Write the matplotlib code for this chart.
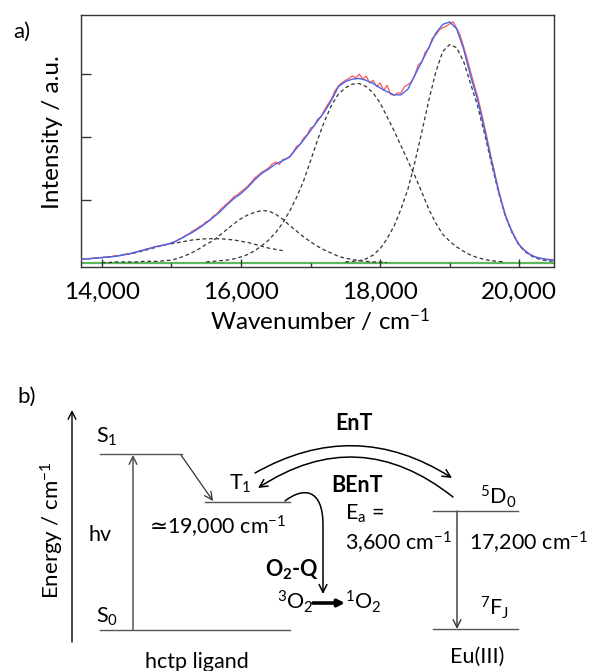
import matplotlib
matplotlib.use("Agg")
import matplotlib.pyplot as plt
from matplotlib.patches import FancyArrowPatch
from matplotlib.path import Path
import numpy as np

plt.rcParams['font.family'] = ['Lato', 'DejaVu Sans']
plt.rcParams['mathtext.fontset'] = 'custom'
plt.rcParams['mathtext.rm'] = 'Lato'
plt.rcParams['mathtext.it'] = 'Lato:italic'
plt.rcParams['mathtext.bf'] = 'Lato:bold'

# ============================================
# DATA
# ============================================

# measured spectrum, every 50 cm-1 from 13,700
red_start, red_step = 13700, 50
red_intensity = [
    0.05, 0.06, 0.06, 0.07, 0.07, 0.08, 0.08, 0.09, 0.09, 0.10,   # 13700-14150
    0.11, 0.11, 0.12, 0.14, 0.14, 0.16, 0.17, 0.19, 0.20, 0.22,   # 14200-14650
    0.23, 0.25, 0.26, 0.27, 0.29, 0.29, 0.32, 0.33, 0.37, 0.39,   # 14700-15150
    0.43, 0.46, 0.50, 0.53, 0.57, 0.60, 0.65, 0.67, 0.74, 0.77,   # 15200-15650
    0.84, 0.89, 0.94, 0.99, 1.05, 1.08, 1.13, 1.17, 1.22, 1.28,   # 15700-16150
    1.35, 1.39, 1.44, 1.47, 1.51, 1.57, 1.60, 1.56, 1.64, 1.65,   # 16200-16650
    1.69, 1.76, 1.85, 1.88, 1.98, 2.03, 2.14, 2.17, 2.28, 2.32,   # 16700-17150
    2.43, 2.52, 2.60, 2.73, 2.81, 2.86, 2.90, 2.93, 2.97, 2.94,   # 17200-17650
    3.00, 2.92, 2.97, 2.86, 2.90, 2.80, 2.86, 2.74, 2.82, 2.68,   # 17700-18150
    2.66, 2.70, 2.70, 2.80, 2.83, 2.88, 2.99, 3.15, 3.19, 3.35,   # 18200-18650
    3.41, 3.57, 3.62, 3.70, 3.74, 3.76, 3.80, 3.83, 3.73, 3.62,   # 18700-19150
    3.44, 3.25, 3.04, 2.84, 2.65, 2.42, 2.17, 1.92, 1.66, 1.42,   # 19200-19650
    1.17, 0.95, 0.77, 0.61, 0.49, 0.37, 0.29, 0.22, 0.18, 0.13,   # 19700-20150
    0.11, 0.08, 0.07, 0.06, 0.05, 0.05, 0.04]                      # 20200-20500

# fit sum, every 100 cm-1 from 13,700
fit_start = 13700
fit_total = [
    0.05, 0.06, 0.07, 0.08, 0.09, 0.10, 0.12, 0.14, 0.17, 0.20,
    0.23, 0.26, 0.28, 0.31, 0.36, 0.42, 0.48, 0.55, 0.63, 0.72,
    0.81, 0.92, 1.02, 1.10, 1.20, 1.32, 1.42, 1.49, 1.57, 1.62,
    1.68, 1.82, 1.95, 2.10, 2.25, 2.40, 2.58, 2.80, 2.88, 2.92,
    2.93, 2.90, 2.85, 2.78, 2.72, 2.67, 2.67, 2.76, 2.98, 3.20,
    3.42, 3.65, 3.79, 3.83, 3.72, 3.40, 2.97, 2.60, 2.12, 1.62,
    1.15, 0.75, 0.48, 0.28, 0.17, 0.10, 0.07, 0.05, 0.04]

# fitted components (dashed), every 100 cm-1 from their start
comp1_start = 13700
comp1 = [0.05, 0.06, 0.07, 0.08, 0.09, 0.10, 0.12, 0.14, 0.16, 0.19,
         0.22, 0.25, 0.28, 0.30, 0.32, 0.34, 0.36, 0.37, 0.38, 0.38,
         0.38, 0.37, 0.36, 0.34, 0.32, 0.29, 0.26, 0.23, 0.21, 0.19]
comp2_start = 14000
comp2 = [0.00, 0.00, 0.01, 0.01, 0.01, 0.01, 0.02, 0.02, 0.02, 0.03,
         0.04, 0.07, 0.11, 0.16, 0.22, 0.29, 0.35, 0.44, 0.53, 0.62,
         0.70, 0.76, 0.80, 0.83, 0.82, 0.77, 0.69, 0.59, 0.50, 0.41,
         0.33, 0.26, 0.20, 0.15, 0.10, 0.07, 0.05, 0.03, 0.02, 0.01,
         0.01, 0.00]
comp3_start = 15500
comp3 = [0.01, 0.02, 0.03, 0.04, 0.06, 0.09, 0.13, 0.19, 0.27, 0.36,
         0.48, 0.63, 0.82, 1.04, 1.30, 1.62, 1.95, 2.25, 2.50, 2.68,
         2.78, 2.84, 2.85, 2.80, 2.70, 2.54, 2.32, 2.10, 1.86, 1.62,
         1.38, 1.12, 0.85, 0.63, 0.45, 0.34, 0.25, 0.18, 0.12, 0.08,
         0.05, 0.03, 0.02, 0.01]
comp4_start = 17500
comp4 = [0.01, 0.02, 0.03, 0.06, 0.12, 0.22, 0.38, 0.58, 0.85, 1.17,
         1.60, 2.08, 2.58, 3.03, 3.36, 3.47, 3.42, 3.20, 2.85, 2.50,
         2.06, 1.58, 1.13, 0.74, 0.47, 0.27, 0.16, 0.09, 0.05, 0.03,
         0.02]

x_major = [14000, 16000, 18000, 20000]
x_labels = ["14,000", "16,000", "18,000", "20,000"]
x_minor = [15000, 17000, 19000]
y_major = [1, 2, 3]


def grid(start, vals, step=100):
    return start + step * np.arange(len(vals))


fig = plt.figure(figsize=(5.9, 6.71), dpi=100)

# ============================================
# a) spectrum with fit
# ============================================
ax = fig.add_axes([81 / 590, 1 - 267 / 671, 473 / 590, 252 / 671])

ax.axhline(0, color="#5cb85c", lw=1.6, zorder=1)
for start, comp in [(comp1_start, comp1), (comp2_start, comp2),
                    (comp3_start, comp3), (comp4_start, comp4)]:
    ax.plot(grid(start, comp), comp, color="#333333", lw=0.9,
            ls=(0, (3, 2.2)), zorder=2)
ax.plot(grid(red_start, red_intensity, red_step), red_intensity,
        color="#ff5555", lw=0.9, zorder=3)
ax.plot(grid(fit_start, fit_total), fit_total, color="#4466ee", lw=1.0, zorder=4)

ax.set_xlim(13700, 20500)
ax.set_ylim(-0.07, 3.94)
ax.set_xticks(x_major)
ax.set_xticklabels(x_labels)
ax.set_xticks(x_minor, minor=True)
ax.set_yticks(y_major)
ax.set_yticklabels([])
ax.tick_params(axis="x", which="major", direction="in", length=5.5, width=1,
               labelsize=17.5, pad=11, color="#333333")
ax.tick_params(axis="x", which="minor", direction="in", length=3, width=1,
               color="#333333")
ax.tick_params(axis="y", direction="in", length=7, width=1, color="#333333")
for sp in ax.spines.values():
    sp.set_color("#333333")
    sp.set_linewidth(1)

ax.set_xlabel(r"Wavenumber / cm$^{\mathregular{-1}}$", fontsize=17.5)
ax.xaxis.set_label_coords((320 - 81) / 473, -(307 - 267) / 252)
ax.set_ylabel("Intensity / a.u.", fontsize=17.5)
ax.yaxis.set_label_coords(-(81 - 63) / 473, (267 - 132) / 252)

# ============================================
# b) energy level diagram (pixel coordinates)
# ============================================
ov = fig.add_axes([0, 0, 1, 1])
ov.set_xlim(0, 590)
ov.set_ylim(671, 0)
ov.axis("off")

fs = 15.5
ov.text(13, 32, "a)", fontsize=16, va="center", ha="left")
ov.text(17, 397, "b)", fontsize=16, va="center", ha="left")
ov.text(52, 530, r"Energy / cm$^{\mathregular{-1}}$", fontsize=16,
        rotation=90, ha="center", va="center")

level_color = "#555555"
ov.plot([100, 182], [454, 454], color=level_color, lw=1)
ov.plot([100, 290], [630, 630], color=level_color, lw=1)
ov.plot([205, 290], [502, 502], color=level_color, lw=1)
ov.plot([433, 518], [511, 511], color=level_color, lw=1)
ov.plot([433, 518], [629, 629], color=level_color, lw=1)


def arrow(start, end, lw=1.0, color="black", style="->", conn="arc3", ms=14):
    ov.add_patch(FancyArrowPatch(start, end, arrowstyle=style, color=color,
                                 lw=lw, mutation_scale=ms, shrinkA=0, shrinkB=0,
                                 connectionstyle=conn))


arrow((72, 642), (72, 410), lw=1.0)
arrow((133, 630), (133, 455), lw=1.0, color="#444444")
arrow((181, 455), (213, 501), lw=0.9, color="#333333")
arrow((255, 473), (452, 478), lw=1.1, conn="arc3,rad=-0.3")
arrow((453, 497), (258, 488), lw=1.1, conn="arc3,rad=0.36")
arrow((457, 511), (457, 629), lw=1.0, color="#333333")
arrow((313, 603), (345, 603), lw=2.6, style="-|>", ms=10)

o2q = Path([(285, 501), (303, 487), (323, 488), (323, 525), (323, 594)],
           [Path.MOVETO, Path.CURVE4, Path.CURVE4, Path.CURVE4, Path.LINETO])
ov.add_patch(FancyArrowPatch(path=o2q, arrowstyle="->", color="black", lw=1.1,
                             mutation_scale=14))

ov.text(96, 437, r"S$_{\mathregular{1}}$", fontsize=fs, va="center")
ov.text(89, 535, "hv", fontsize=fs, va="center")
ov.text(96, 617, r"S$_{\mathregular{0}}$", fontsize=fs, va="center")
ov.text(229, 484, r"T$_{\mathregular{1}}$", fontsize=fs, va="center")
ov.text(150, 527, "\u2243", fontsize=fs, va="center", family="DejaVu Sans")
ov.text(167, 527, r"19,000 cm$^{\mathregular{-1}}$", fontsize=fs, va="center")
ov.text(354, 423, "EnT", fontsize=fs, va="center", ha="center", fontweight="bold")
ov.text(357, 486, "BEnT", fontsize=fs, va="center", ha="center", fontweight="bold")
ov.text(345, 514, r"E$_{\mathregular{a}}$ =", fontsize=fs, va="center")
ov.text(345, 543, r"3,600 cm$^{\mathregular{-1}}$", fontsize=fs, va="center")
ov.text(265, 570, r"O$_{\mathbf{2}}$-Q", fontsize=fs, va="center", fontweight="bold")
ov.text(277, 602, r"$^{\mathregular{3}}$O$_{\mathregular{2}}$", fontsize=fs, va="center")
ov.text(345, 602, r"$^{\mathregular{1}}$O$_{\mathregular{2}}$", fontsize=fs, va="center")
ov.text(480, 497, r"$^{\mathregular{5}}$D$_{\mathregular{0}}$", fontsize=fs, va="center")
ov.text(469, 543, r"17,200 cm$^{\mathregular{-1}}$", fontsize=fs, va="center")
ov.text(480, 608, r"$^{\mathregular{7}}$F$_{\mathregular{J}}$", fontsize=fs, va="center")
ov.text(477, 657, "Eu(III)", fontsize=fs, va="center", ha="center")
ov.text(197, 662, "hctp ligand", fontsize=fs, va="center", ha="center")

fig.savefig("out.png", dpi=100)
